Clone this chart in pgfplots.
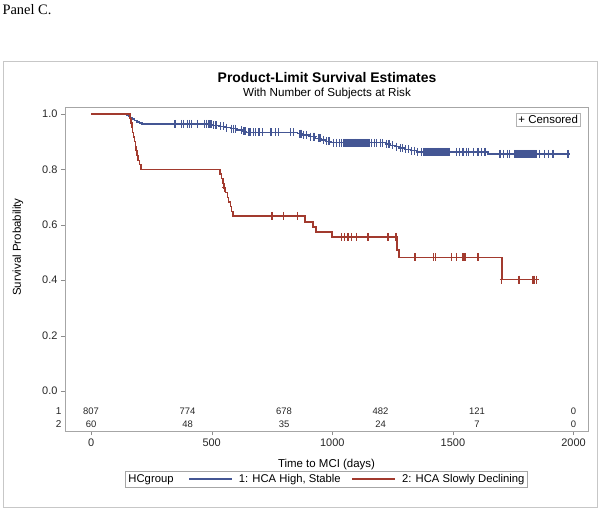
\documentclass[border=0pt]{standalone}
\usepackage{pgfplots}
\pgfplotsset{compat=1.18}
\usepackage{fontspec}
\setmainfont{Liberation Sans}
\newfontfamily\timesfont{Liberation Serif}
\definecolor{sasblue}{HTML}{445694}
\definecolor{sasred}{HTML}{A23A2E}
\begin{document}
\begin{tikzpicture}
\path[use as bounding box] (0,0) rectangle (600bp,509bp);
\node[anchor=west,font=\timesfont\fontsize{14.5}{16}\selectfont] at (-1bp,499bp) {Panel C.};
\draw[black!22] (3bp,2bp) rectangle (597bp,448bp);
\node[font=\bfseries\fontsize{14}{16}\selectfont] at (327bp,431bp) {Product-Limit Survival Estimates};
\node[font=\fontsize{11.7}{13}\selectfont] at (327bp,416bp) {With Number of Subjects at Risk};
\begin{axis}[
  at={(65bp,78bp)}, anchor=south west,
  scale only axis, width=523bp, height=324bp,
  xmin=-108, xmax=2060, ymin=-0.144, ymax=1.025,
  xtick={0,500,1000,1500,2000},
  ytick={0,0.2,0.4,0.6,0.8,1.0},
  yticklabel style={/pgf/number format/fixed, /pgf/number format/fixed zerofill, /pgf/number format/precision=1},
  xticklabel style={/pgf/number format/1000 sep={}},
  /pgf/number format/assume math mode=true,
  tick label style={font=\fontsize{11}{13}\selectfont, text=black!85},
  extra y ticks={-0.072,-0.119},
  extra y tick labels={1,2},
  extra y tick style={major tick length=0pt, yticklabel style={/tikz/font=\fontsize{10}{11}\selectfont}},
  tick align=outside, major tick length=4bp,
  xtick pos=bottom, ytick pos=left,
  axis line style={black!35}, tick style={black!45},
  xlabel={Time to MCI (days)},
  ylabel={Survival Probability},
  label style={font=\fontsize{11.5}{13}\selectfont},
  xlabel style={at={(axis description cs:0.5,-0.105)}, anchor=center},
  ylabel style={at={(axis description cs:-0.0899,0.568)}, anchor=center},
  legend style={at={(axis description cs:0.5,-0.148)}, anchor=center, draw=black!35,
    font=\fontsize{11.3}{13}\selectfont, inner sep=1bp,
    /tikz/every even column/.append style={column sep=9bp}},
  legend columns=3, legend cell align=left,
  legend image code/.code={\draw[#1] (0bp,0bp) -- (43bp,0bp); \path (47bp,0bp);},
]
\addlegendimage{empty legend}
\addlegendentry{HCgroup\kern4bp}
\addplot[const plot, draw=sasblue, color=sasblue, line width=1.4bp] coordinates {
(0,1.000)(148,0.996)(156,0.991)(164,0.986)(172,0.981)(180,0.976)(190,0.971)(200,0.967)(211,0.964)(480,0.962)(505,0.959)(530,0.955)(555,0.951)(580,0.947)(605,0.942)(625,0.937)(645,0.933)(855,0.929)(880,0.924)(905,0.918)(930,0.912)(955,0.906)(975,0.901)(995,0.896)(1220,0.892)(1240,0.887)(1260,0.882)(1280,0.877)(1300,0.872)(1325,0.867)(1350,0.863)(1645,0.856)(1985,0.856)
};
\addlegendentry{1: HCA High, Stable}
\addplot[const plot, draw=sasred, color=sasred, line width=1.4bp] coordinates {
(0,1.000)(162,0.983)(165,0.967)(170,0.950)(173,0.933)(176,0.917)(180,0.900)(183,0.883)(186,0.867)(190,0.850)(195,0.833)(200,0.817)(207,0.800)(535,0.783)(540,0.767)(547,0.750)(551,0.733)(558,0.716)(565,0.699)(570,0.682)(577,0.665)(583,0.649)(589,0.632)(887,0.610)(920,0.592)(932,0.574)(998,0.556)(1268,0.509)(1277,0.483)(1703,0.402)(1852,0.402)
};
\addlegendentry{2: HCA Slowly Declining}
% censored marks, group 1
\addplot[forget plot, only marks, color=sasblue, mark=+, mark size=4bp, mark options={xscale=0.5, line width=1.1bp}] table {
x y
348 0.964
376 0.964
383 0.964
399 0.964
407 0.964
417 0.964
441 0.964
472 0.964
479 0.964
486 0.962
493 0.962
500 0.962
507 0.959
514 0.959
521 0.959
535 0.955
548 0.955
562 0.951
583 0.947
590 0.947
597 0.947
624 0.942
631 0.937
638 0.937
652 0.933
659 0.933
673 0.933
680 0.933
693 0.933
700 0.933
712 0.933
742 0.933
749 0.933
763 0.933
776 0.933
825 0.933
838 0.933
866 0.929
873 0.929
880 0.924
894 0.924
908 0.918
921 0.918
928 0.918
942 0.912
949 0.912
963 0.906
977 0.901
983 0.901
990 0.901
1004 0.896
1018 0.896
1030 0.896
1040 0.896
1046 0.896
1050 0.896
1054 0.896
1058 0.896
1062 0.896
1066 0.896
1070 0.896
1074 0.896
1078 0.896
1082 0.896
1086 0.896
1090 0.896
1094 0.896
1098 0.896
1102 0.896
1106 0.896
1110 0.896
1114 0.896
1118 0.896
1122 0.896
1126 0.896
1130 0.896
1134 0.896
1138 0.896
1142 0.896
1146 0.896
1150 0.896
1154 0.896
1163 0.896
1175 0.896
1185 0.896
1198 0.896
1209 0.896
1225 0.892
1235 0.892
1250 0.887
1267 0.882
1281 0.877
1290 0.877
1305 0.872
1315 0.872
1330 0.867
1340 0.867
1355 0.863
1370 0.863
1378 0.863
1382 0.863
1386 0.863
1390 0.863
1394 0.863
1398 0.863
1402 0.863
1406 0.863
1410 0.863
1414 0.863
1418 0.863
1422 0.863
1426 0.863
1430 0.863
1434 0.863
1438 0.863
1442 0.863
1446 0.863
1450 0.863
1454 0.863
1458 0.863
1462 0.863
1466 0.863
1470 0.863
1474 0.863
1478 0.863
1482 0.863
1486 0.863
1516 0.863
1527 0.863
1542 0.863
1556 0.863
1563 0.863
1584 0.863
1604 0.863
1618 0.863
1633 0.863
1695 0.856
1708 0.856
1728 0.856
1736 0.856
1757 0.856
1761 0.856
1765 0.856
1769 0.856
1773 0.856
1777 0.856
1781 0.856
1785 0.856
1789 0.856
1793 0.856
1797 0.856
1801 0.856
1805 0.856
1809 0.856
1813 0.856
1817 0.856
1821 0.856
1825 0.856
1829 0.856
1833 0.856
1837 0.856
1841 0.856
1848 0.856
1860 0.856
1880 0.856
1898 0.856
1915 0.856
1977 0.856
};
% censored marks, group 2
\addplot[forget plot, only marks, color=sasred, mark=+, mark size=4bp, mark options={xscale=0.5, line width=1.1bp}] coordinates {
(553,0.733)(750,0.632)(796,0.632)(854,0.632)(1040,0.556)(1049,0.556)(1065,0.556)(1081,0.556)(1102,0.556)(1148,0.556)(1231,0.556)(1264,0.556)(1343,0.483)(1421,0.483)(1426,0.483)(1496,0.483)(1516,0.483)(1542,0.483)(1550,0.483)(1604,0.483)(1703,0.402)(1774,0.402)(1832,0.402)(1840,0.402)(1848,0.402)
};
% numbers at risk
\addplot[forget plot, draw=none, mark=none, nodes near coords, point meta=explicit symbolic,
  nodes near coords style={anchor=center, text=black!85, font=\fontsize{9.5}{11}\selectfont}] coordinates {
(0,-0.072) [807] (400,-0.072) [774] (800,-0.072) [678] (1200,-0.072) [482] (1600,-0.072) [121] (2000,-0.072) [0]
(0,-0.119) [60] (400,-0.119) [48] (800,-0.119) [35] (1200,-0.119) [24] (1600,-0.119) [7] (2000,-0.119) [0]
};
\node[anchor=north east, draw=black!30, fill=white, inner sep=2bp, font=\fontsize{11.5}{13}\selectfont] at (rel axis cs:0.985,0.981) {+ Censored};
\end{axis}
\end{tikzpicture}
\end{document}
